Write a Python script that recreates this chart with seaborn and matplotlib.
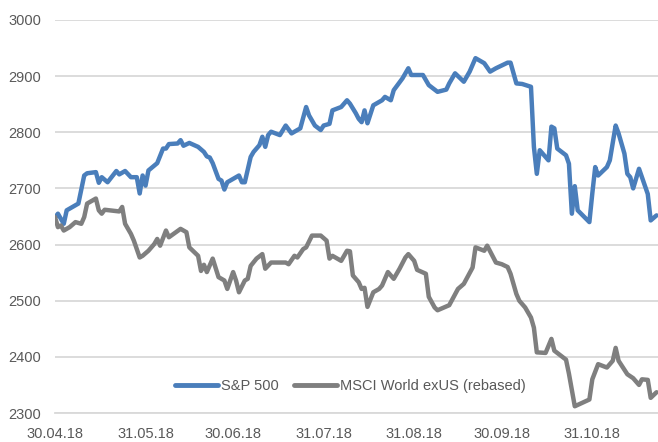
import pandas as pd
import matplotlib
matplotlib.use('Agg')
import matplotlib.pyplot as plt
import matplotlib.dates as mdates
import seaborn as sns

# S&P 500
spx_dates = ['2018-04-30', '2018-05-01', '2018-05-03', '2018-05-04', '2018-05-08', '2018-05-10',
             '2018-05-11', '2018-05-14', '2018-05-15', '2018-05-16', '2018-05-18', '2018-05-21',
             '2018-05-22', '2018-05-24', '2018-05-26', '2018-05-28', '2018-05-29', '2018-05-30',
             '2018-05-31', '2018-06-01', '2018-06-04', '2018-06-06', '2018-06-07', '2018-06-08',
             '2018-06-11', '2018-06-12', '2018-06-13', '2018-06-15', '2018-06-18', '2018-06-20',
             '2018-06-21', '2018-06-22', '2018-06-23', '2018-06-25', '2018-06-26', '2018-06-27',
             '2018-06-28', '2018-07-02', '2018-07-03', '2018-07-04', '2018-07-06', '2018-07-07',
             '2018-07-09', '2018-07-10', '2018-07-11', '2018-07-12', '2018-07-13', '2018-07-16',
             '2018-07-18', '2018-07-20', '2018-07-22', '2018-07-23', '2018-07-25', '2018-07-26',
             '2018-07-28', '2018-07-30', '2018-07-31', '2018-08-02', '2018-08-03', '2018-08-06',
             '2018-08-08', '2018-08-09', '2018-08-11', '2018-08-12', '2018-08-13', '2018-08-14',
             '2018-08-15', '2018-08-17', '2018-08-20', '2018-08-21', '2018-08-23', '2018-08-24',
             '2018-08-27', '2018-08-29', '2018-08-30', '2018-09-03', '2018-09-05', '2018-09-08',
             '2018-09-11', '2018-09-12', '2018-09-14', '2018-09-17', '2018-09-19', '2018-09-21',
             '2018-09-24', '2018-09-26', '2018-09-28', '2018-10-02', '2018-10-03', '2018-10-05',
             '2018-10-07', '2018-10-10', '2018-10-11', '2018-10-12', '2018-10-13', '2018-10-16',
             '2018-10-17', '2018-10-18', '2018-10-19', '2018-10-22', '2018-10-23', '2018-10-24',
             '2018-10-25', '2018-10-26', '2018-10-30', '2018-10-31', '2018-11-01', '2018-11-02',
             '2018-11-05', '2018-11-06', '2018-11-08', '2018-11-09', '2018-11-11', '2018-11-12',
             '2018-11-13', '2018-11-14', '2018-11-16', '2018-11-18', '2018-11-19', '2018-11-20',
             '2018-11-22']
spx_values = [2648, 2655, 2637, 2661, 2673, 2723,
              2727, 2729, 2710, 2720, 2711, 2731,
              2725, 2731, 2720, 2720, 2691, 2723,
              2705, 2732, 2745, 2771, 2771, 2779,
              2780, 2786, 2776, 2781, 2774, 2765,
              2757, 2755, 2745, 2717, 2714, 2698,
              2711, 2723, 2711, 2711, 2756, 2765,
              2777, 2792, 2774, 2795, 2801, 2795,
              2812, 2798, 2804, 2807, 2845, 2830,
              2812, 2804, 2812, 2815, 2839, 2845,
              2857, 2851, 2834, 2824, 2818, 2839,
              2816, 2848, 2857, 2863, 2857, 2875,
              2896, 2914, 2902, 2902, 2884, 2872,
              2876, 2887, 2905, 2890, 2908, 2932,
              2923, 2908, 2914, 2924, 2924, 2887,
              2886, 2881, 2774, 2726, 2768, 2750,
              2810, 2807, 2771, 2759, 2744, 2655,
              2704, 2661, 2640, 2691, 2738, 2723,
              2738, 2750, 2812, 2798, 2762, 2726,
              2720, 2700, 2735, 2705, 2690, 2643,
              2652]

# MSCI World exUS, rebased
msci_dates = ['2018-04-30', '2018-05-01', '2018-05-02', '2018-05-03', '2018-05-05', '2018-05-07',
              '2018-05-09', '2018-05-10', '2018-05-11', '2018-05-14', '2018-05-15', '2018-05-16',
              '2018-05-17', '2018-05-22', '2018-05-23', '2018-05-24', '2018-05-26', '2018-05-27',
              '2018-05-29', '2018-05-30', '2018-06-01', '2018-06-03', '2018-06-04', '2018-06-05',
              '2018-06-07', '2018-06-08', '2018-06-12', '2018-06-14', '2018-06-15', '2018-06-18',
              '2018-06-19', '2018-06-20', '2018-06-21', '2018-06-23', '2018-06-25', '2018-06-27',
              '2018-06-28', '2018-06-30', '2018-07-01', '2018-07-02', '2018-07-04', '2018-07-05',
              '2018-07-06', '2018-07-08', '2018-07-10', '2018-07-11', '2018-07-13', '2018-07-18',
              '2018-07-19', '2018-07-21', '2018-07-22', '2018-07-24', '2018-07-25', '2018-07-27',
              '2018-07-30', '2018-08-01', '2018-08-02', '2018-08-03', '2018-08-06', '2018-08-08',
              '2018-08-09', '2018-08-10', '2018-08-12', '2018-08-13', '2018-08-14', '2018-08-15',
              '2018-08-17', '2018-08-19', '2018-08-20', '2018-08-22', '2018-08-24', '2018-08-26',
              '2018-08-28', '2018-08-29', '2018-08-31', '2018-09-01', '2018-09-04', '2018-09-05',
              '2018-09-07', '2018-09-08', '2018-09-12', '2018-09-15', '2018-09-17', '2018-09-20',
              '2018-09-21', '2018-09-24', '2018-09-25', '2018-09-28', '2018-09-30', '2018-10-02',
              '2018-10-03', '2018-10-05', '2018-10-06', '2018-10-08', '2018-10-10', '2018-10-11',
              '2018-10-12', '2018-10-15', '2018-10-17', '2018-10-18', '2018-10-22', '2018-10-23',
              '2018-10-25', '2018-10-30', '2018-10-31', '2018-11-02', '2018-11-05', '2018-11-07',
              '2018-11-08', '2018-11-09', '2018-11-12', '2018-11-14', '2018-11-16', '2018-11-17',
              '2018-11-19', '2018-11-20', '2018-11-22']
msci_values = [2649, 2631, 2634, 2625, 2631, 2640,
               2637, 2649, 2673, 2682, 2661, 2655,
               2662, 2659, 2667, 2637, 2619, 2607,
               2577, 2580, 2589, 2601, 2610, 2598,
               2625, 2613, 2628, 2622, 2595, 2580,
               2553, 2564, 2551, 2575, 2542, 2536,
               2521, 2551, 2536, 2515, 2536, 2539,
               2562, 2575, 2583, 2557, 2568, 2568,
               2565, 2580, 2577, 2592, 2595, 2616,
               2616, 2607, 2575, 2580, 2571, 2589,
               2588, 2545, 2533, 2521, 2523, 2489,
               2515, 2521, 2527, 2551, 2539, 2557,
               2577, 2583, 2571, 2555, 2548, 2507,
               2488, 2483, 2492, 2521, 2530, 2559,
               2595, 2589, 2598, 2568, 2565, 2560,
               2548, 2512, 2500, 2488, 2470, 2452,
               2408, 2407, 2432, 2411, 2395, 2370,
               2312, 2324, 2360, 2387, 2381, 2393,
               2416, 2393, 2369, 2362, 2350, 2360,
               2359, 2327, 2337]

series_names = ['S&P 500', 'MSCI World exUS (rebased)']
series_colors = ['#4a7ebb', '#7f7f7f']
tick_dates = ['2018-04-30', '2018-05-31', '2018-06-30', '2018-07-31',
              '2018-08-31', '2018-09-30', '2018-10-31']

df = pd.concat([
    pd.DataFrame({'date': pd.to_datetime(spx_dates), 'value': spx_values, 'series': series_names[0]}),
    pd.DataFrame({'date': pd.to_datetime(msci_dates), 'value': msci_values, 'series': series_names[1]}),
], ignore_index=True)

sns.set_style('white')
plt.rcParams['font.family'] = ['Liberation Sans Narrow', 'Liberation Sans', 'DejaVu Sans']

fig = plt.figure(figsize=(6.58, 4.42), dpi=100)
ax = fig.add_axes([0.0836, 0.0656, 0.9164, 0.8892])

sns.lineplot(data=df, x='date', y='value', hue='series', hue_order=series_names,
             palette=dict(zip(series_names, series_colors)), linewidth=3.2,
             estimator=None, ax=ax)
for line in ax.lines:
    line.set_solid_joinstyle('round')
    line.set_solid_capstyle('round')

ax.set_ylim(2300, 3000)
ax.set_yticks(range(2300, 3001, 100))
ax.set_xlim(pd.Timestamp('2018-04-30'), pd.Timestamp('2018-11-22 12:00'))
ax.set_xticks(pd.to_datetime(tick_dates))
ax.xaxis.set_major_formatter(mdates.DateFormatter('%d.%m.%y'))
ax.set_xlabel('')
ax.set_ylabel('')

ax.grid(axis='y', color='#d9d9d9', linewidth=1.3)
ax.grid(axis='x', visible=False)
for side in ['left', 'top', 'right']:
    ax.spines[side].set_visible(False)
ax.spines['bottom'].set_color('#d9d9d9')
ax.spines['bottom'].set_linewidth(1.3)

ax.tick_params(axis='y', length=0, pad=10, labelcolor='#595959', labelsize=10.5)
ax.tick_params(axis='x', length=4, width=1.3, color='#d9d9d9', pad=6,
               labelcolor='#595959', labelsize=10.5)

handles, labels = ax.get_legend_handles_labels()
leg = ax.legend(handles, labels, loc='center', bbox_to_anchor=(0.49, 0.069), ncol=2,
                frameon=False, handlelength=2.9, handletextpad=0.2, columnspacing=1.1,
                fontsize=10.5, labelcolor='#595959')
for h in leg.get_lines():
    h.set_linewidth(3.5)

fig.savefig('out.png', dpi=100)
